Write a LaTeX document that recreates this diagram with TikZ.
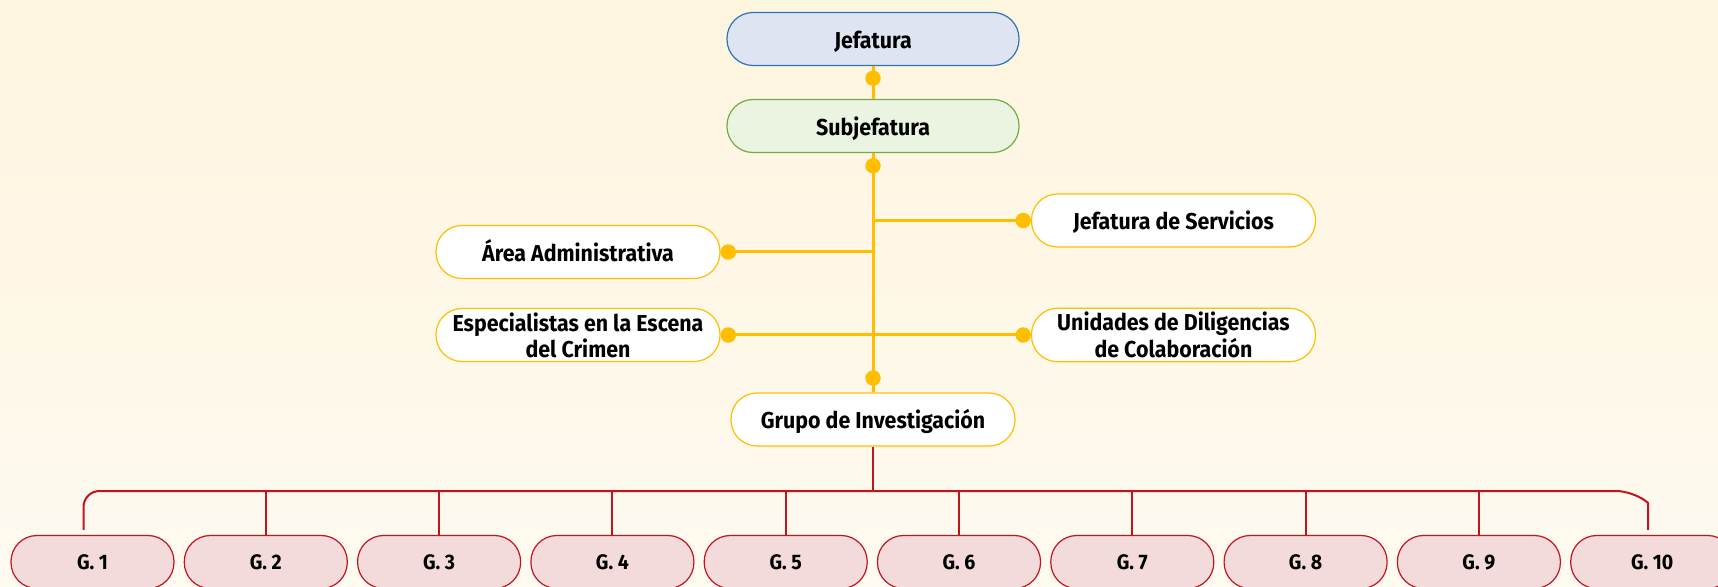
\documentclass[tikz,border=0pt]{standalone}
\usepackage{fontspec}
\setmainfont{Fira Sans}[FakeStretch=0.93]
\usetikzlibrary{arrows.meta}

\definecolor{bgtop}{RGB}{254,245,223}
\definecolor{bgbot}{RGB}{254,250,240}
\definecolor{jeffill}{RGB}{222,228,242}
\definecolor{jefline}{RGB}{46,117,182}
\definecolor{subfill}{RGB}{235,243,225}
\definecolor{subline}{RGB}{112,173,71}
\definecolor{gold}{RGB}{255,190,0}
\definecolor{grpfill}{RGB}{243,219,220}
\definecolor{grpline}{RGB}{192,20,30}

\begin{document}
\begin{tikzpicture}[x=0.5pt,y=-0.5pt,node distance=86.65pt,
                    box/.style={draw,rounded corners=13pt,minimum height=26.5pt,
                      align=center,line width=0.6pt,inner sep=2pt,
                      font=\bfseries\fontsize{11.5}{10}\selectfont},
                    oneline/.style={text height=11pt,text depth=1.5pt},
                    topbox/.style={box,oneline,minimum width=146pt},
                    sidebox/.style={box,draw=gold,fill=white,minimum width=142pt},
                    gbox/.style={box,draw=grpline,fill=grpfill,minimum width=81.5pt,
                      font=\bfseries\fontsize{10.5}{10}\selectfont},
                    goldline/.style={draw=gold,line width=1.5pt},
                    redline/.style={draw=grpline,line width=1pt},
                    golddot/.style={circle,fill=gold,inner sep=0pt,minimum size=7.7pt},
                    tip/.tip={Circle[length=7.7pt]}]
  \useasboundingbox (0,0) rectangle (1718,587);
  \shade[top color=bgtop,bottom color=bgbot] (0,0) rectangle (1718,587);

  \node[topbox,fill=jeffill,draw=jefline] (jef)      at (873,39)     {Jefatura};
  \node[topbox,fill=subfill,draw=subline] (sub)      [below of=jef,node distance=43.5pt] {Subjefatura};
  \node[sidebox,oneline]         (serv)     at (1173.5,220.5) {Jefatura de Servicios};
  \node[sidebox,oneline]         (adm)      at (578,252)    {Área Administrativa};
  \node[sidebox]                 (esc)      at (578,335)    {Especialistas en la Escena\\del Crimen};
  \node[sidebox]                 (uni)      at (1173.5,335) {Unidades de Diligencias\\de Colaboración};
  \node[sidebox,oneline]         (gru)      at (873,419.5)  {Grupo de Investigación};

  \node[gbox] (g1)                 at (92.5,562) {G. 1};
  \node[gbox] (g2)  [right of=g1]  {G. 2};
  \node[gbox] (g3)  [right of=g2]  {G. 3};
  \node[gbox] (g4)  [right of=g3]  {G. 4};
  \node[gbox] (g5)  [right of=g4]  {G. 5};
  \node[gbox] (g6)  [right of=g5]  {G. 6};
  \node[gbox] (g7)  [right of=g6]  {G. 7};
  \node[gbox] (g8)  [right of=g7]  {G. 8};
  \node[gbox] (g9)  [right of=g8]  {G. 9};
  \node[gbox] (g10) [right of=g9]  {G. 10};

  \coordinate (bus) at (873,491);

  \draw[goldline] (jef) -- node[golddot,pos=0.37] (d1) {} (sub);
  \draw[goldline] (sub) -- node[golddot,pos=0.053] (d2) {}
                           node[golddot,pos=0.94] (d3) {} (gru);
  \draw[goldline,-tip] (sub |- serv) -- (serv);
  \draw[goldline,-tip] (sub |- adm) -- (adm);
  \draw[goldline,tip-tip] (esc) -- (uni);

  \draw[redline] (gru) -- (bus);
  \draw[redline] ([xshift=-4.5pt,yshift=2.5pt]g1.north)
        [rounded corners=8pt] -- ([xshift=-4.5pt]g1 |- bus)
        -- ([xshift=-10pt]g10 |- bus) [sharp corners]
        -- ([xshift=-2pt,yshift=-6pt]g10 |- bus) -- ([xshift=-2pt,yshift=2.5pt]g10.north);
  \draw[redline] (g2 |- bus) -- (g2);
  \draw[redline] (g3 |- bus) -- (g3);
  \draw[redline] (g4 |- bus) -- (g4);
  \draw[redline] (g5 |- bus) -- (g5);
  \draw[redline] (g6 |- bus) -- (g6);
  \draw[redline] (g7 |- bus) -- (g7);
  \draw[redline] (g8 |- bus) -- (g8);
  \draw[redline] (g9 |- bus) -- (g9);
\end{tikzpicture}
\end{document}
